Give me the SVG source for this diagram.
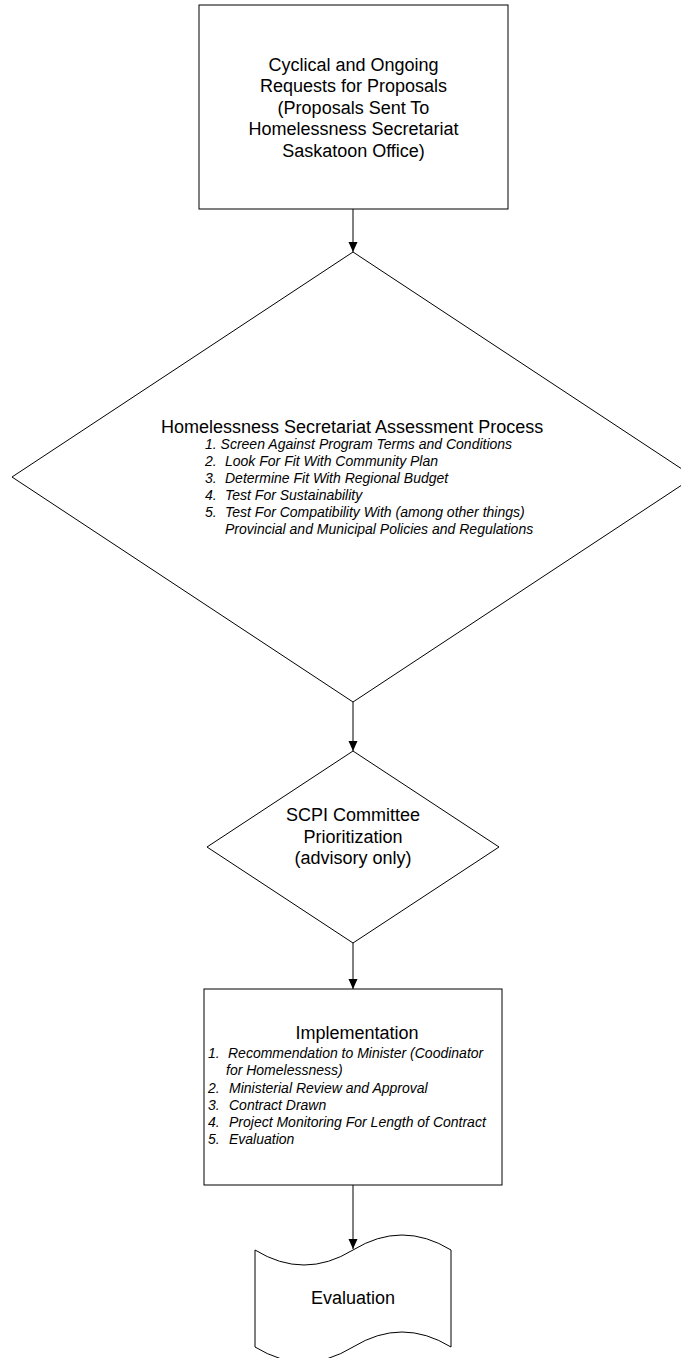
<svg xmlns="http://www.w3.org/2000/svg" width="681" height="1358" viewBox="0 0 681 1358">
<style>
.shape{fill:#fff;stroke:#000;stroke-width:1}
.t{font-family:"Liberation Sans",Arial,sans-serif;font-size:18px;fill:#000}
.c{text-anchor:middle}
.i{font-family:"Liberation Sans",Arial,sans-serif;font-size:14px;font-style:italic;fill:#000}
.conn{stroke:#000;stroke-width:1;fill:none;marker-end:url(#arr)}
</style>
<defs>
<marker id="arr" markerWidth="10" markerHeight="10" refX="10" refY="5" orient="auto" markerUnits="userSpaceOnUse">
<path d="M0,0.5 L10,5 L0,9.5 Z" fill="#000"/>
</marker>
</defs>
<rect width="681" height="1358" fill="#fff"/>
<g id="connectors">
<line class="conn" x1="353" y1="209" x2="353" y2="252"/>
<line class="conn" x1="353" y1="702" x2="353" y2="751"/>
<line class="conn" x1="353" y1="943" x2="353" y2="989"/>
<line class="conn" x1="353" y1="1185" x2="353" y2="1249"/>
</g>
<g id="requests">
<rect class="shape" x="199" y="5" width="309" height="204"/>
<text class="t c" x="353.5" y="70.5">Cyclical and Ongoing</text>
<text class="t c" x="353.5" y="92">Requests for Proposals</text>
<text class="t c" x="353.5" y="113.5">(Proposals Sent To</text>
<text class="t c" x="353.5" y="135">Homelessness Secretariat</text>
<text class="t c" x="353.5" y="156.5">Saskatoon Office)</text>
</g>
<g id="assessment">
<polygon class="shape" points="353,252 694,477 353,702 12,477"/>
<text class="t" x="161" y="433">Homelessness Secretariat Assessment Process</text>
<text class="i" x="205" y="449">1. Screen Against Program Terms and Conditions</text>
<text class="i" x="205" y="466">2.</text><text class="i" x="225" y="466">Look For Fit With Community Plan</text>
<text class="i" x="205" y="483">3.</text><text class="i" x="225" y="483">Determine Fit With Regional Budget</text>
<text class="i" x="205" y="500">4.</text><text class="i" x="225" y="500">Test For Sustainability</text>
<text class="i" x="205" y="517">5.</text><text class="i" x="225" y="517">Test For Compatibility With (among other things)</text>
<text class="i" x="225" y="534">Provincial and Municipal Policies and Regulations</text>
</g>
<g id="scpi">
<polygon class="shape" points="353,751 499,847 353,943 207,847"/>
<text class="t c" x="353" y="821">SCPI Committee</text>
<text class="t c" x="353" y="843">Prioritization</text>
<text class="t c" x="353" y="864">(advisory only)</text>
</g>
<g id="implementation">
<rect class="shape" x="204" y="989" width="298" height="196"/>
<text class="t c" x="357" y="1039">Implementation</text>
<text class="i" x="208" y="1058">1.</text><text class="i" x="228" y="1058">Recommendation to Minister (Coodinator</text>
<text class="i" x="226" y="1075">for Homelessness)</text>
<text class="i" x="208" y="1093">2.</text><text class="i" x="229" y="1093">Ministerial Review and Approval</text>
<text class="i" x="208" y="1110">3.</text><text class="i" x="229" y="1110">Contract Drawn</text>
<text class="i" x="208" y="1127">4.</text><text class="i" x="229" y="1127">Project Monitoring For Length of Contract</text>
<text class="i" x="208" y="1144">5.</text><text class="i" x="229" y="1144">Evaluation</text>
</g>
<g id="evaluation">
<path class="shape" d="M255,1250 Q304,1280 353,1250 T451,1250 L451,1347 Q402,1317 353,1347 T255,1347 Z"/>
<text class="t c" x="353" y="1304">Evaluation</text>
</g>
</svg>
